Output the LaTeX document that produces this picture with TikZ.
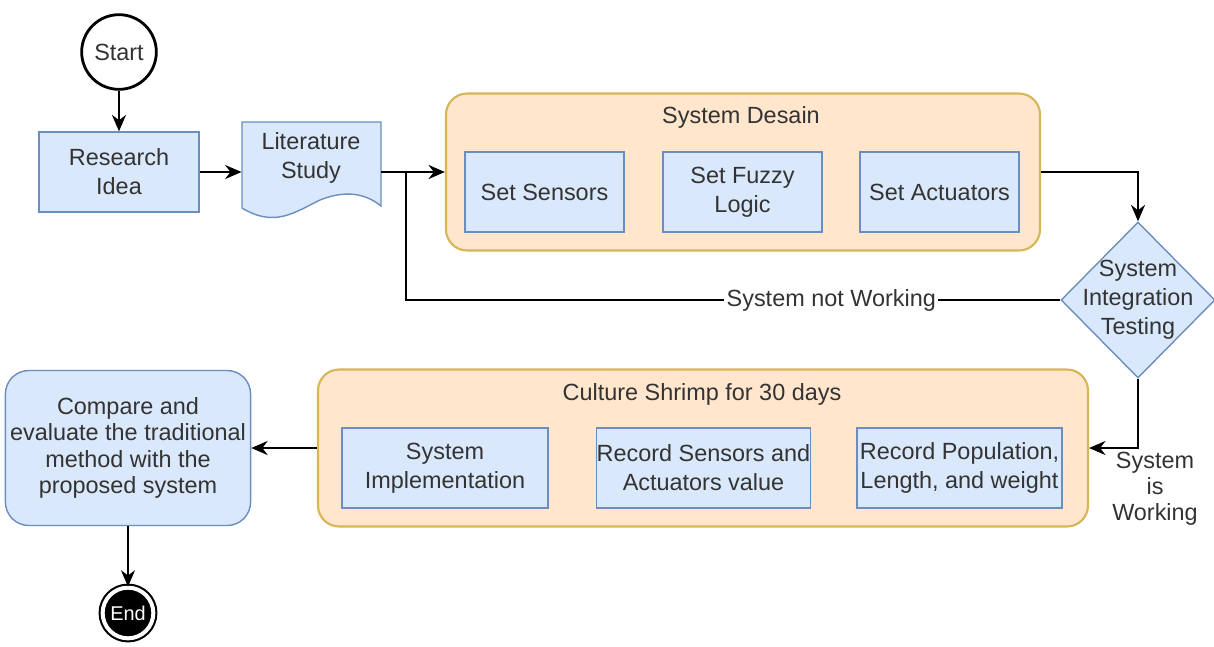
\documentclass[tikz,border=0pt]{standalone}
\usepackage{fontspec}
\setmainfont{Liberation Sans}
\usetikzlibrary{shapes.geometric, arrows.meta, positioning}

\definecolor{boxfill}{HTML}{DAE8FC}
\definecolor{boxline}{HTML}{6C8EBF}
\definecolor{grpfill}{HTML}{FFE6CC}
\definecolor{grpline}{HTML}{D6B656}
\definecolor{txt}{HTML}{333333}

\tikzset{
  stepbox/.style={draw=boxline, fill=boxfill, text=txt, align=center,
    minimum height=1.2cm, inner sep=2pt, line width=0.6pt},
  group/.style={draw=grpline, fill=grpfill, rounded corners=9pt, line width=0.9pt},
  arr/.style={-{Stealth[length=7pt,width=6pt]}, line width=0.85pt},
  lbl/.style={text=txt, align=center}
}

\begin{document}
\begin{tikzpicture}[x=0.015cm, y=-0.015cm, font=\fontsize{10}{12.4}\selectfont]
    \useasboundingbox (0,0) rectangle (1214,646);

    % top row
    \node[circle, draw, line width=1.2pt, minimum size=1.12cm, text=txt] (start) at (119,52) {Start};
    \node[stepbox, minimum width=2.4cm] (idea) at (119,172) {Research\\Idea};

    \node[minimum width=2.085cm, minimum height=1.5cm, inner sep=0] (lit) at (311.5,172) {};
    \draw[draw=boxline, fill=boxfill, line width=0.6pt] (242,122) -- (381,122) -- (381,206)
        .. controls (365,193) and (345,190) .. (320,200)
        .. controls (295,212) and (275,228) .. (242,208) -- cycle;
    \node[lbl] (littext) at (311,158) {Literature\\Study};

    \node[group, minimum width=8.91cm, minimum height=2.355cm] (design) at (743,172) {};
    \node[lbl] (designtitle) at (741,117) {System Desain};
    \node[stepbox, minimum width=2.385cm] (sensors) at (544.5,192) {Set Sensors};
    \node[stepbox, minimum width=2.385cm] (fuzzy) at (742.5,192) {Set Fuzzy\\Logic};
    \node[stepbox, minimum width=2.385cm] (actuators) at (939.5,192) {Set Actuators};

    \node[diamond, draw=boxline, fill=boxfill, line width=0.6pt, inner sep=0,
          minimum width=2.31cm, minimum height=2.34cm] (test) at (1138,300) {};
    \node[lbl] (testtext) at (test.center) {System\\Integration\\Testing};

    % bottom row
    \node[group, minimum width=11.55cm, minimum height=2.355cm] (culture) at (703,448) {};
    \node[lbl] (culturetitle) at (702,394) {Culture Shrimp for 30 days};
    \node[stepbox, minimum width=3.09cm, inner xsep=0pt] (impl) at (445,468) {System\\Implementation};
    \node[stepbox, minimum width=3.13cm, inner xsep=0pt] (record) at (703.5,468) {Record Sensors and\\Actuators value};
    \node[stepbox, minimum width=3.08cm, inner xsep=0pt] (population) at (959.5,468) {Record Population,\\Length, and weight};

    \node[stepbox, rounded corners=10pt, minimum width=3.57cm, minimum height=2.325cm,
          font=\fontsize{10}{11.3}\selectfont] (compare) at (128,448)
        {Compare and\\evaluate the traditional\\method with the\\proposed system};

    \node[circle, fill=black, draw=black, double=white, double distance=1.7pt, line width=0.9pt,
          minimum size=0.76cm, inner sep=0, text=white, font=\fontsize{8.5}{10}\selectfont] (end) at (128,613) {End};

    % connectors
    \coordinate (split) at (406,172);
    \draw[arr] (start) -- (idea);
    \draw[arr] (idea) -- (idea -| lit.west);
    \draw[arr] (lit.east) -- (design.west);
    \draw[arr] (design.east) -| (test.north);
    \draw[line width=0.85pt] (test.west) -- node[pos=0.35, lbl, fill=white, inner sep=1pt] (notworking) {System not Working}
        (test.west -| split) -- (split);
    \draw[arr] (test.south) |- (culture.east);
    \node[lbl, font=\fontsize{10}{11}\selectfont] (working) at (1155,489) {System\\is\\Working};
    \draw[arr] (culture.west) -- (compare.east);
    \draw[arr] (compare) -- (end);
\end{tikzpicture}
\end{document}
